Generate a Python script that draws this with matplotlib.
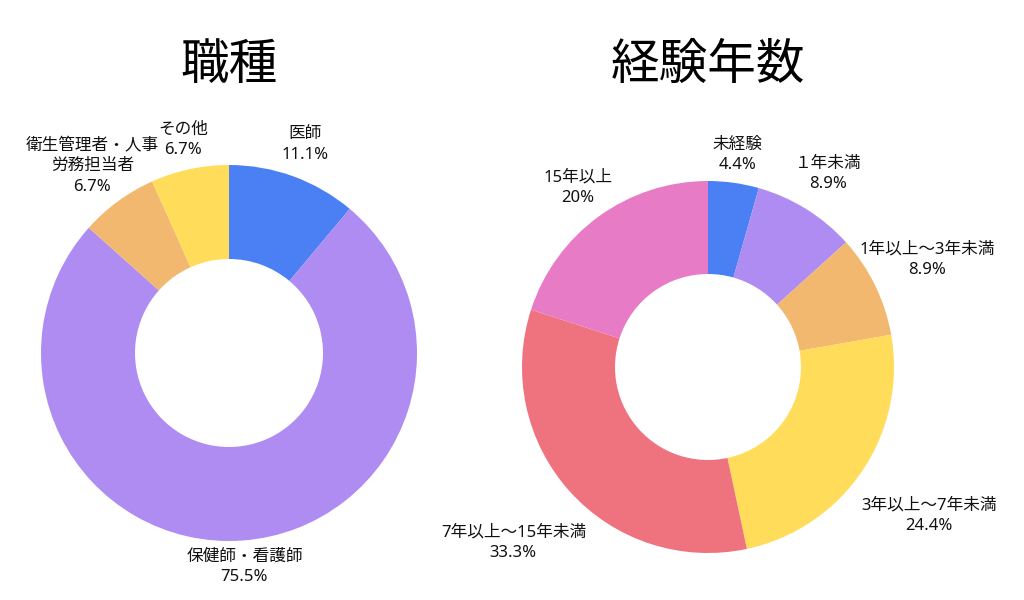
import numpy as np
import matplotlib
matplotlib.use("Agg")
import matplotlib.pyplot as plt

plt.rcParams['font.family'] = ['Noto Sans', 'Noto Sans CJK JP', 'DejaVu Sans']

# data
job_labels = ["医師", "保健師・看護師", "衛生管理者・人事\n労務担当者", "その他"]
job_values = [11.1, 75.5, 6.7, 6.7]
job_colors = ["#4b80f5", "#ae8cf2", "#f2b86f", "#ffdd5a"]

exp_labels = ["未経験", "１年未満", "1年以上～3年未満", "3年以上～7年未満",
              "7年以上～15年未満", "15年以上"]
exp_values = [4.4, 8.9, 8.9, 24.4, 33.3, 20]
exp_colors = ["#4b80f5", "#ae8cf2", "#f2b86f", "#ffdd5a", "#ef737e", "#e87bc6"]

# label distance per slice (in radii)
job_dist = [1.18, 1.14, 1.23, 1.16]
exp_dist = [1.15, 1.22, 1.31, 1.43, 1.41, 1.19]


def donut(ax, labels, values, colors, dists):
    wedges, _ = ax.pie(values, colors=colors, startangle=90, counterclock=False,
                       radius=1.0, wedgeprops=dict(width=0.5, linewidth=0))
    for w, lab, v, d in zip(wedges, labels, values, dists):
        a = np.deg2rad((w.theta1 + w.theta2) / 2)
        ax.text(d * np.cos(a), d * np.sin(a), f"{lab}\n{v:g}%", ha="center", va="center",
                fontsize=12, linespacing=1.35, color="#111111")
    ax.set_xlim(-1.3, 1.3); ax.set_ylim(-1.3, 1.3)
    ax.set_aspect("equal"); ax.axis("off")


fig = plt.figure(figsize=(10.24, 6), dpi=100)
axL = fig.add_axes([(229 - 244.4) / 1024, (600 - 353 - 244.4) / 600, 488.8 / 1024, 488.8 / 600])
axR = fig.add_axes([(708 - 241.8) / 1024, (600 - 367 - 241.8) / 600, 483.6 / 1024, 483.6 / 600])
donut(axL, job_labels, job_values, job_colors, job_dist)
donut(axR, exp_labels, exp_values, exp_colors, exp_dist)
fig.text(229 / 1024, 1 - 65 / 600, "職種", ha="center", va="center", fontsize=35,
         family=['Noto Sans CJK JP'])
fig.text(708 / 1024, 1 - 65 / 600, "経験年数", ha="center", va="center", fontsize=35,
         family=['Noto Sans CJK JP'])
fig.savefig("out.png", dpi=100)
